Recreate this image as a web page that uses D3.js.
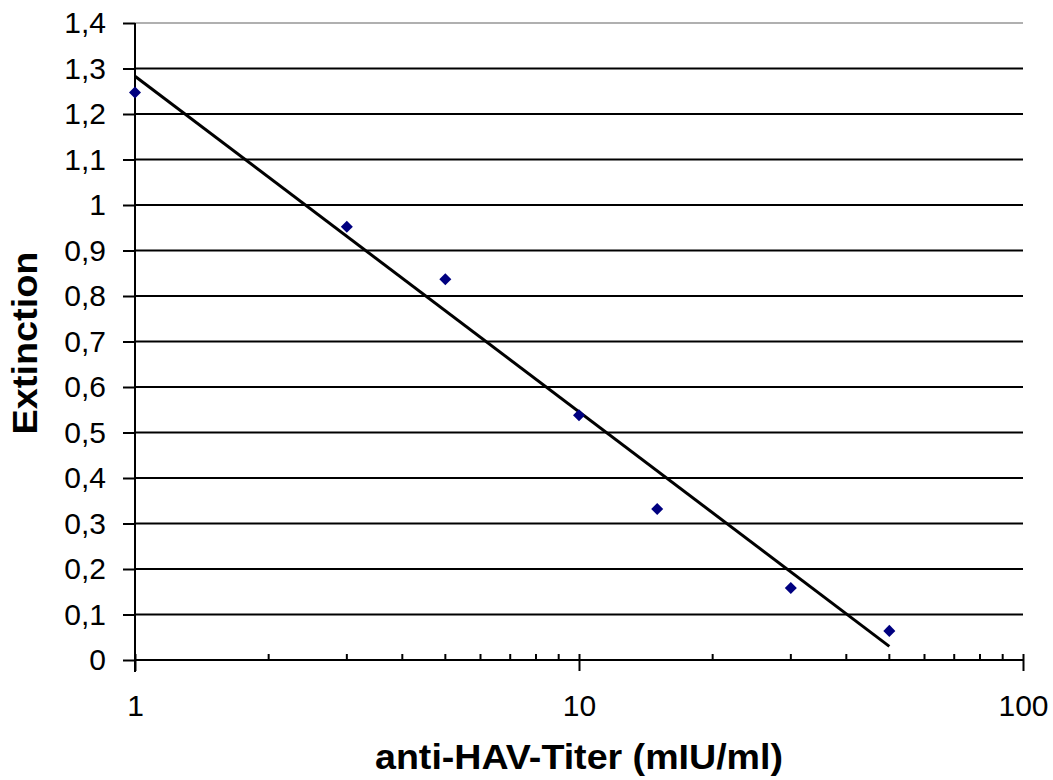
<!DOCTYPE html>
<html><head><meta charset="utf-8">
<script src="https://cdn.jsdelivr.net/npm/d3@7"></script>
<style>body{margin:0;background:#fff}svg{display:block}text{font-family:"Liberation Sans",Arial,sans-serif}</style>
</head><body>
<script>
const titerX = [1, 3, 5, 10, 15, 30, 50];
const extinctionY = [1.247, 0.952, 0.837, 0.538, 0.332, 0.158, 0.064];
const trendX = [1, 50];
const trendY = [1.283, 0.030];
const yTicks = [0,0.1,0.2,0.3,0.4,0.5,0.6,0.7,0.8,0.9,1,1.1,1.2,1.3,1.4];
const xMajor = [1, 10, 100];
const xMinor = [2,3,4,5,6,7,8,9,20,30,40,50,60,70,80,90];

const W = 1053, H = 780;
const svg = d3.select("body").append("svg").attr("width", W).attr("height", H);
const x = d3.scaleLog().domain([1,100]).range([135,1023]);
const y = d3.scaleLinear().domain([0,1.4]).range([660,23]);
const fmt = v => String(Math.round(v*10)/10).replace(".", ",");

// gridlines
svg.append("g").selectAll("line").data(yTicks.filter(d=>d>0)).join("line")
  .attr("x1",135).attr("x2",1023)
  .attr("y1",d=>y(d)).attr("y2",d=>y(d))
  .attr("stroke",d=>d===1.4?"#b0b0b0":"#000").attr("stroke-width",2);

// y axis
const yAxis = d3.axisLeft(y).tickValues(yTicks).tickSize(12).tickPadding(17).tickFormat(fmt);
const gy = svg.append("g").attr("transform","translate(135,0)").call(yAxis);
gy.attr("font-family",null).attr("font-size",null);
gy.select(".domain").attr("stroke","#000").attr("stroke-width",2).attr("d","M0,23V672");
gy.selectAll(".tick line").attr("stroke","#000").attr("stroke-width",2);
gy.selectAll(".tick text").attr("font-size",30).attr("fill","#000");

// x axis major
const xAxis = d3.axisBottom(x).tickValues(xMajor).tickSize(11).tickPadding(24).tickFormat(d3.format("d"));
const gx = svg.append("g").attr("transform","translate(0,660)").call(xAxis);
gx.attr("font-family",null).attr("font-size",null);
gx.select(".domain").attr("stroke","#000").attr("stroke-width",2).attr("d","M135,0H1023");
gx.selectAll(".tick line").attr("stroke","#000").attr("stroke-width",2).attr("y1",-6);
gx.selectAll(".tick text").attr("font-size",30).attr("fill","#000");
// minor ticks (inside)
svg.append("g").selectAll("line").data(xMinor).join("line")
  .attr("x1",d=>x(d)).attr("x2",d=>x(d)).attr("y1",654).attr("y2",660)
  .attr("stroke","#000").attr("stroke-width",2);

// trend line
const line = d3.line().x(d=>x(d[0])).y(d=>y(d[1]));
svg.append("path").datum(trendX.map((v,i)=>[v,trendY[i]]))
  .attr("d",line).attr("fill","none").attr("stroke","#000").attr("stroke-width",3);

// markers
svg.append("g").selectAll("path").data(titerX.map((v,i)=>[v,extinctionY[i]])).join("path")
  .attr("d",d3.symbol().type(d3.symbolDiamond2).size(92))
  .attr("transform",d=>`translate(${x(d[0])},${y(d[1])})`)
  .attr("fill","#000080");

// titles
svg.append("text").attr("x",579).attr("y",769).attr("text-anchor","middle")
  .attr("font-size",35).attr("font-weight","bold")
  .attr("textLength",408).attr("lengthAdjust","spacingAndGlyphs").text("anti-HAV-Titer (mIU/ml)");
svg.append("text").attr("transform","translate(37,343) rotate(-90)").attr("text-anchor","middle")
  .attr("font-size",35).attr("font-weight","bold")
  .attr("textLength",183).attr("lengthAdjust","spacingAndGlyphs").text("Extinction");
</script>
</body></html>
